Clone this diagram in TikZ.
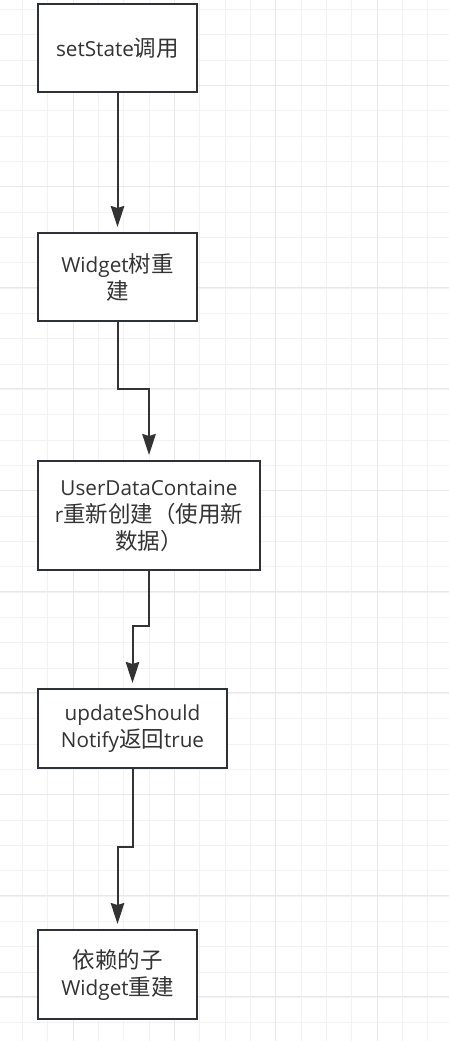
\documentclass[tikz,border=0pt]{standalone}
\usepackage{fontspec}
\setmainfont{Open Sans}[Scale=0.92]
\newfontfamily\cjkfont{Noto Sans CJK SC}
\newcommand{\zh}[1]{{\cjkfont #1}}
\usetikzlibrary{arrows.meta}
\definecolor{inkgray}{HTML}{333333}
\definecolor{boxline}{HTML}{2E3236}

\begin{document}
\begin{tikzpicture}[
  x=1pt, y=-1pt,
  block/.style={draw=boxline, line width=2pt, fill=white, align=center, text=inkgray,
                font=\fontsize{22.5}{27}\selectfont, inner sep=0pt},
  arrow/.style={-{Stealth[length=21pt, width=13.5pt, inset=2pt]}, line width=2pt,
                draw=inkgray, shorten >=5pt},
  minorgrid/.style={draw=black!5, line width=1pt},
  majorgrid/.style={draw=black!9, line width=1pt}
]
\useasboundingbox[fill=white] (0,0) rectangle (449,1041);

% background grid
\begin{scope}
\clip (0,0) rectangle (449,1041);
\foreach \i in {0,...,18} \draw[minorgrid] ({-2.67+25.33*\i},0) -- ++(0,1041);
\foreach \j in {0,...,41} \draw[minorgrid] (0,{9.67+25.33*\j}) -- ++(449,0);
\foreach \i in {0,...,3} \draw[majorgrid] ({73.33+101.33*\i},0) -- ++(0,1041);
\foreach \j in {0,...,9} \draw[majorgrid] (0,{85+101.33*\j}) -- ++(449,0);
\end{scope}

\node[block, minimum width=159pt, minimum height=88pt] (call) at (117.5,48) {setState\zh{调用}};
\node[block, minimum width=159pt, minimum height=88pt] (tree) at (117.5,277) {Widget\zh{树重}\\\zh{建}};
\node[block, minimum width=222pt, minimum height=109pt] (data) at (149,515.5) {UserDataContaine\\r\zh{重新创建（使用新}\\\zh{数据）}};
\node[block, minimum width=189pt, minimum height=79pt] (notify) at (132.5,728.5) {updateShould\\Notify\zh{返回}true};
\node[block, minimum width=159pt, minimum height=89pt] (child) at (117.5,974.5) {\zh{依赖的子}\\Widget\zh{重建}};

\draw[arrow] (call.south) -- (tree.north);
\draw[arrow] (tree.south) -- ++(0,67) -| (data.north);
\draw[arrow] (data.south) -- ++(0,55) -| (notify.north);
\draw[arrow] (notify.south) -- ++(0,78) -| (child.north);
\end{tikzpicture}
\end{document}
